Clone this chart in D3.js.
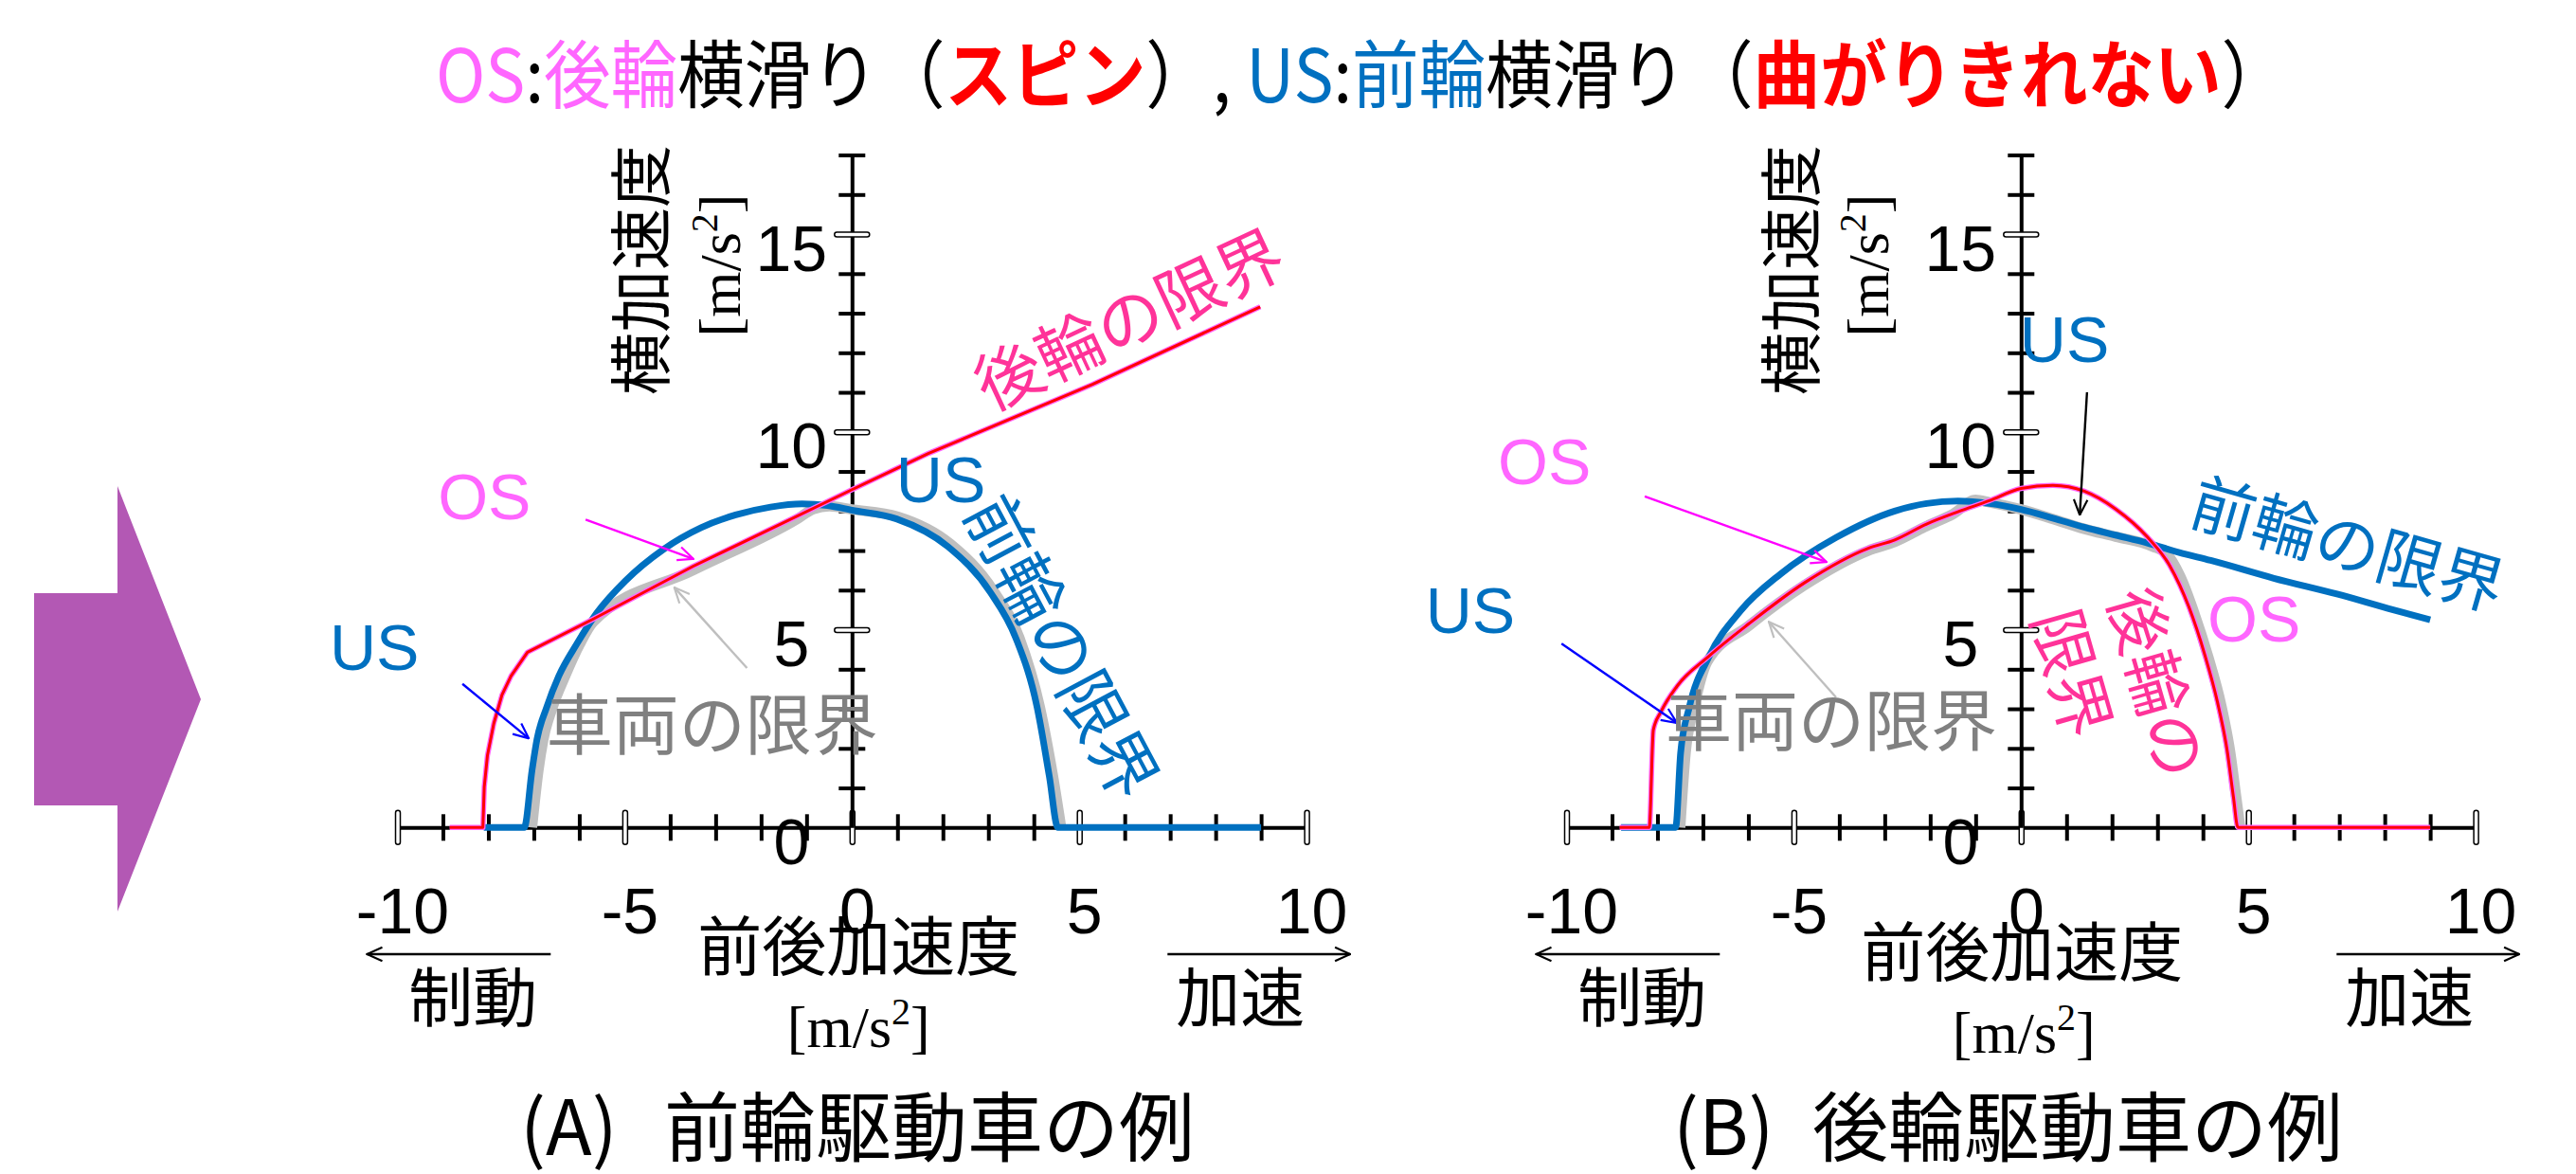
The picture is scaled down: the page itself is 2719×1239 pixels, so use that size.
<!DOCTYPE html>
<html>
<head>
<meta charset="utf-8">
<script src="https://cdn.jsdelivr.net/npm/d3@7"></script>
<style>
  body { margin: 0; background: #fff; }
  svg { display: block; }
</style>
</head>
<body>
<svg id="chart"></svg>
<script>
// 前後加速度 (x) と 横加速度 (y) の限界, 単位 m/s^2
const xTickLabels = [-10, -5, 0, 5, 10];
const yTickLabels = [0, 5, 10, 15];
const xMinorTicks = [-10, -9, -8, -7, -6, -5, -4, -3, -2, -1, 0, 1, 2, 3, 4, 5, 6, 7, 8, 9, 10];
const yMinorTicks = [1, 2, 3, 4, 5, 6, 7, 8, 9, 10, 11, 12, 13, 14, 15, 16, 17];

// (A) 前輪駆動車
const rearA = [[-8.85, 0], [-8.12, 0], [-8.09, 1.03], [-8.02, 1.82], [-7.88, 2.63], [-7.7, 3.35],
  [-7.5, 3.83], [-7.14, 4.43], [-5.69, 5.27], [-3.5, 6.6], [0, 8.54], [1.69, 9.46], [5.29, 11.2], [8.98, 13.16]];
const frontA = [[-8.1, 0], [-7.21, 0], [-7.04, 1.44], [-6.93, 2.23], [-6.72, 3.03], [-6.45, 3.83],
  [-6.06, 4.63], [-5.61, 5.43], [-4.99, 6.23], [-4.15, 7.03], [-3.32, 7.58], [-2.56, 7.9], [-1.79, 8.1],
  [-1.1, 8.18], [-0.54, 8.14], [0, 8.02], [0.98, 7.8], [2.11, 7.1], [3.04, 5.95], [3.6, 4.8],
  [4.07, 3.05], [4.34, 1.3], [4.53, 0], [9.0, 0]];
const vehicleA = [[-7.04, 0], [-6.9, 1.44], [-6.79, 2.23], [-6.59, 3.03], [-6.31, 3.83], [-5.99, 4.63],
  [-5.69, 5.2], [-3.5, 6.5], [-1.2, 7.8], [-0.85, 8.05], [-0.5, 8.12], [0, 8.04], [1.0, 7.86],
  [2.15, 7.18], [3.1, 6.0], [3.68, 4.8], [4.13, 3.05], [4.42, 1.3], [4.6, 0]];

// (B) 後輪駆動車
const rearB = [[-8.83, 0], [-8.18, 0], [-8.09, 2.47], [-7.92, 2.93], [-7.57, 3.57], [-6.87, 4.33],
  [-5.99, 5.15], [-4.76, 6.19], [-3.36, 7.06], [-2.78, 7.27], [-2.08, 7.67], [-1.39, 7.98], [-0.7, 8.26],
  [0, 8.57], [0.7, 8.65], [1.39, 8.5], [2.08, 8.05], [2.78, 7.34], [3.27, 6.62], [3.69, 5.58],
  [4.04, 4.37], [4.32, 3.17], [4.53, 1.97], [4.67, 0.78], [4.77, 0], [9.0, 0]];
const frontB = [[-8.8, 0], [-7.6, 0], [-7.49, 1.89], [-7.3, 3.04], [-6.87, 4.31], [-6.17, 5.48],
  [-5.29, 6.41], [-4.07, 7.33], [-2.78, 8.0], [-2.08, 8.19], [-1.39, 8.25], [-0.7, 8.19], [0, 8.04],
  [0.7, 7.82], [1.39, 7.59], [2.08, 7.39], [2.78, 7.19], [3.48, 6.95], [4.17, 6.75], [5.56, 6.3],
  [6.95, 5.9], [8.07, 5.54], [9.0, 5.25]];
const vehicleB = [[-7.5, 0], [-7.38, 1.9], [-7.2, 3.0], [-6.9, 4.2], [-5.99, 5.1], [-4.76, 6.13],
  [-3.36, 7.0], [-2.78, 7.22], [-2.08, 7.62], [-1.5, 7.92], [-1.0, 8.28], [-0.7, 8.22], [0, 8.04],
  [0.7, 7.8], [1.39, 7.55], [2.08, 7.35], [2.9, 7.1], [3.2, 6.92], [3.5, 6.35], [3.8, 5.45],
  [4.12, 4.3], [4.4, 3.1], [4.6, 1.9], [4.73, 0.78], [4.82, 0]];

const titleParts = [
  { t: "OS", c: "#ff66ff" }, { t: ":", c: "#000" }, { t: "後輪", c: "#ff66ff" }, { t: "横滑り（", c: "#000" },
  { t: "スピン", c: "#ff0000", w: "bold" }, { t: "）, ", c: "#000" }, { t: "US", c: "#0070c0" },
  { t: ":", c: "#000" }, { t: "前輪", c: "#0070c0" }, { t: "横滑り（", c: "#000" },
  { t: "曲がりきれない", c: "#ff0000", w: "bold" }, { t: "）", c: "#000" }
];

const CJK = "'Noto Sans CJK JP', 'Noto Sans', sans-serif";
const SANS = "'Liberation Sans', Arial, sans-serif";
const SERIF = "'Liberation Serif', 'Times New Roman', serif";
const BLUE = "#0070c0", RED = "#ff0000", PINK = "#ff3399", MAGENTA = "#ff66ff", GRAY = "#bfbfbf";

const W = 2719, H = 1239;
const y0 = 873.3, yUnit = 41.75, xUnit = 47.98;

const svg = d3.select("#chart").attr("width", W).attr("height", H);
svg.append("rect").attr("width", W).attr("height", H).attr("fill", "#fff");

const defs = svg.append("defs");
function arrowMarker(id, color) {
  defs.append("marker")
    .attr("id", id)
    .attr("viewBox", "0 0 20 20")
    .attr("refX", 19).attr("refY", 10)
    .attr("markerWidth", 18).attr("markerHeight", 18)
    .attr("markerUnits", "userSpaceOnUse")
    .attr("orient", "auto")
    .append("path")
    .attr("d", "M1,2 L19,10 L1,18")
    .attr("fill", "none")
    .attr("stroke", color)
    .attr("stroke-width", 2.4);
}
const arrowColors = { black: "#000", magenta: "#ff00ff", blue: "#0000ff", gray: "#bfbfbf" };
Object.entries(arrowColors).forEach(([k, c]) => arrowMarker("ah-" + k, c));

// big purple arrow on the left
svg.append("path")
  .attr("d", "M36,626 L124,626 L124,513 L212,738 L124,962 L124,850 L36,850 Z")
  .attr("fill", "#b358b4");

// title, squeezed horizontally to the width it has in the slide
const title = svg.append("text")
  .attr("transform", "translate(460,108) scale(0.905,1)")
  .attr("font-family", CJK).attr("font-size", 78);
titleParts.forEach(p => {
  title.append("tspan").attr("fill", p.c).attr("font-weight", p.w || "normal").text(p.t);
});

const panels = [
  {
    x0: 899.3, rear: rearA, front: frontA, vehicle: vehicleA, rearCurve: d3.curveLinear,
    sub: "(A)", subText: "前輪駆動車の例", subX: 549, subTextX: 701,
    yLabelX: 672, yUnitX: 781, xLabelDx: 7, xLabelY: 1024, xUnitY: 1105, xUnitDx: 7,
    texts: [
      { t: "OS", x: -9.11, y: 7.79, c: MAGENTA, f: SANS, s: 68 },
      { t: "US", x: -11.49, y: 3.98, c: BLUE, f: SANS, s: 68 },
      { t: "US", x: 0.97, y: 8.22, c: BLUE, f: SANS, s: 68 },
      { t: "車両の限界", x: -6.72, y: 1.97, c: "#808080", f: CJK, s: 70 }
    ],
    rotTexts: [
      { t: "前輪の限界", x: 4.7, y: 4.62, a: 62, c: BLUE, s: 70 },
      { t: "後輪の限界", x: 6.06, y: 12.94, a: -25, c: PINK, s: 70 }
    ],
    arrows: [
      { from: [-5.86, 7.78], to: [-3.49, 6.79], k: "magenta" },
      { from: [-8.57, 3.63], to: [-7.11, 2.25], k: "blue" },
      { from: [-2.31, 4.03], to: [-3.91, 6.07], k: "gray" }
    ]
  },
  {
    x0: 2133.3, rear: rearB, front: frontB, vehicle: vehicleB, rearCurve: d3.curveMonotoneX,
    sub: "(B)", subText: "後輪駆動車の例", subX: 1766, subTextX: 1913,
    yLabelX: 1886, yUnitX: 1993, xLabelDx: 1, xLabelY: 1030, xUnitY: 1111, xUnitDx: 3,
    texts: [
      { t: "US", x: -0.03, y: 11.77, c: BLUE, f: SANS, s: 68 },
      { t: "OS", x: -11.51, y: 8.68, c: MAGENTA, f: SANS, s: 68 },
      { t: "US", x: -13.1, y: 4.92, c: BLUE, f: SANS, s: 68 },
      { t: "OS", x: 4.1, y: 4.7, c: MAGENTA, f: SANS, s: 68 },
      { t: "車両の限界", x: -7.82, y: 2.07, c: "#808080", f: CJK, s: 70 }
    ],
    rotTexts: [
      { t: "前輪の限界", x: 7.21, y: 7.26, a: 16, c: BLUE, s: 68 },
      { t: "後輪の", x: 2.68, y: 5.25, a: 74, c: PINK, s: 68, start: true },
      { t: "限界", x: 1.01, y: 4.71, a: 74, c: PINK, s: 68, start: true }
    ],
    arrows: [
      { from: [1.45, 11.0], to: [1.29, 7.9], k: "black" },
      { from: [-8.28, 8.37], to: [-4.28, 6.71], k: "magenta" },
      { from: [-10.11, 4.65], to: [-7.57, 2.64], k: "blue" },
      { from: [-4.07, 3.29], to: [-5.55, 5.2], k: "gray" }
    ]
  }
];

panels.forEach(p => {
  const x = d3.scaleLinear().domain([-10, 10]).range([p.x0 - 10 * xUnit, p.x0 + 10 * xUnit]);
  const y = d3.scaleLinear().domain([0, 17]).range([y0, y0 - 17 * yUnit]);
  const g = svg.append("g");

  // x axis with crossing ticks
  const gx = g.append("g").attr("transform", `translate(0,${y(0)})`)
    .call(d3.axisBottom(x).tickValues(xMinorTicks).tickSizeInner(14).tickSizeOuter(0).tickFormat(""));
  gx.select(".domain").attr("stroke", "#000").attr("stroke-width", 4);
  gx.selectAll(".tick line")
    .attr("y1", -14).attr("y2", 14).attr("stroke", "#000").attr("stroke-width", 4)
    .attr("display", d => xTickLabels.includes(d) ? "none" : null);
  gx.selectAll(".tick").filter(d => xTickLabels.includes(d)).append("rect")
    .attr("x", -2.5).attr("y", -18).attr("width", 5).attr("height", 36).attr("rx", 2.5)
    .attr("fill", "#fff").attr("stroke", "#000").attr("stroke-width", 1.5);

  // y axis
  const gy = g.append("g").attr("transform", `translate(${x(0)},0)`)
    .call(d3.axisLeft(y).tickValues(yMinorTicks).tickSizeInner(14).tickSizeOuter(0).tickFormat(""));
  gy.select(".domain").attr("stroke", "#000").attr("stroke-width", 4);
  gy.selectAll(".tick line")
    .attr("x1", -14).attr("x2", 14).attr("stroke", "#000").attr("stroke-width", 4)
    .attr("display", d => yTickLabels.includes(d) ? "none" : null);
  gy.selectAll(".tick").filter(d => yTickLabels.includes(d)).append("rect")
    .attr("x", -18.5).attr("y", -2.5).attr("width", 37).attr("height", 5).attr("ry", 2.5)
    .attr("fill", "#fff").attr("stroke", "#000").attr("stroke-width", 1.5);

  // tick labels
  const gxl = g.append("g").attr("transform", `translate(0,${y(0)})`)
    .call(d3.axisBottom(x).tickValues(xTickLabels).tickSize(0).tickFormat(d => String(d)));
  gxl.select(".domain").remove();
  gxl.selectAll("text").attr("y", 112).attr("dy", null).attr("dx", 5)
    .attr("font-size", 68).attr("font-family", SANS).attr("fill", "#000");

  const gyl = g.append("g").attr("transform", `translate(${x(0)},0)`)
    .call(d3.axisLeft(y).tickValues(yTickLabels).tickSize(0).tickFormat(d => String(d)));
  gyl.select(".domain").remove();
  gyl.selectAll("text").attr("x", -64).attr("y", 38).attr("dy", null).attr("text-anchor", "middle")
    .attr("font-size", 68).attr("font-family", SANS).attr("fill", "#000");

  // limit curves
  const line = curve => d3.line().x(d => x(d[0])).y(d => y(d[1])).curve(curve);
  g.append("path").datum(p.vehicle).attr("d", line(d3.curveMonotoneX))
    .attr("fill", "none").attr("stroke", GRAY).attr("stroke-width", 11).attr("stroke-linejoin", "round");
  g.append("path").datum(p.front).attr("d", line(d3.curveMonotoneX))
    .attr("fill", "none").attr("stroke", BLUE).attr("stroke-width", 7).attr("stroke-linejoin", "round");
  g.append("path").datum(p.rear).attr("d", line(p.rearCurve))
    .attr("fill", "none").attr("stroke", "#ff66ff").attr("stroke-width", 5.5).attr("stroke-linejoin", "round");
  g.append("path").datum(p.rear).attr("d", line(p.rearCurve))
    .attr("fill", "none").attr("stroke", RED).attr("stroke-width", 3).attr("stroke-linejoin", "round");

  // annotations
  p.arrows.forEach(a => {
    g.append("line")
      .attr("x1", x(a.from[0])).attr("y1", y(a.from[1]))
      .attr("x2", x(a.to[0])).attr("y2", y(a.to[1]))
      .attr("stroke", arrowColors[a.k]).attr("stroke-width", 2.4)
      .attr("marker-end", `url(#ah-${a.k})`);
  });
  p.texts.forEach(t => {
    g.append("text").attr("x", x(t.x)).attr("y", y(t.y))
      .attr("font-family", t.f).attr("font-size", t.s).attr("fill", t.c).text(t.t);
  });
  p.rotTexts.forEach(t => {
    g.append("text")
      .attr("transform", `translate(${x(t.x)},${y(t.y)}) rotate(${t.a})`)
      .attr("x", t.start ? -t.s / 2 : 0)
      .attr("text-anchor", t.start ? "start" : "middle")
      .attr("dominant-baseline", "central")
      .attr("font-family", CJK).attr("font-size", t.s).attr("fill", t.c).text(t.t);
  });

  // axis titles
  g.append("text")
    .attr("transform", `translate(${p.yLabelX},285) rotate(-90)`)
    .attr("text-anchor", "middle").attr("dominant-baseline", "central")
    .attr("font-family", CJK).attr("font-size", 66).attr("fill", "#000").text("横加速度");
  const yu = g.append("text")
    .attr("transform", `translate(${p.yUnitX},280) rotate(-90)`)
    .attr("text-anchor", "middle").attr("font-family", SERIF).attr("font-size", 62).attr("fill", "#000");
  yu.append("tspan").text("[m/s");
  yu.append("tspan").attr("dy", -24).attr("font-size", 40).text("2");
  yu.append("tspan").attr("dy", 24).text("]");

  g.append("text").attr("x", p.x0 + p.xLabelDx).attr("y", p.xLabelY)
    .attr("text-anchor", "middle").attr("font-family", CJK).attr("font-size", 68)
    .attr("fill", "#000").text("前後加速度");
  const xu = g.append("text").attr("x", p.x0 + p.xUnitDx).attr("y", p.xUnitY)
    .attr("text-anchor", "middle").attr("font-family", SERIF).attr("font-size", 62).attr("fill", "#000");
  xu.append("tspan").text("[m/s");
  xu.append("tspan").attr("dy", -24).attr("font-size", 40).text("2");
  xu.append("tspan").attr("dy", 24).text("]");

  // 制動 / 加速 direction arrows
  g.append("line").attr("x1", p.x0 - 318).attr("x2", p.x0 - 512).attr("y1", 1007).attr("y2", 1007)
    .attr("stroke", "#000").attr("stroke-width", 2.4).attr("marker-end", "url(#ah-black)");
  g.append("line").attr("x1", p.x0 + 333).attr("x2", p.x0 + 526).attr("y1", 1007).attr("y2", 1007)
    .attr("stroke", "#000").attr("stroke-width", 2.4).attr("marker-end", "url(#ah-black)");
  g.append("text").attr("x", p.x0 - 400).attr("y", 1078).attr("text-anchor", "middle")
    .attr("font-family", CJK).attr("font-size", 68).attr("fill", "#000").text("制動");
  g.append("text").attr("x", p.x0 + 410).attr("y", 1078).attr("text-anchor", "middle")
    .attr("font-family", CJK).attr("font-size", 68).attr("fill", "#000").text("加速");

  // panel caption
  const cap = g.append("text").attr("y", 1219).attr("font-family", CJK).attr("font-size", 80).attr("fill", "#000");
  cap.append("tspan").attr("x", p.subX).text(p.sub);
  cap.append("tspan").attr("x", p.subTextX).text(p.subText);
});
</script>
</body>
</html>
